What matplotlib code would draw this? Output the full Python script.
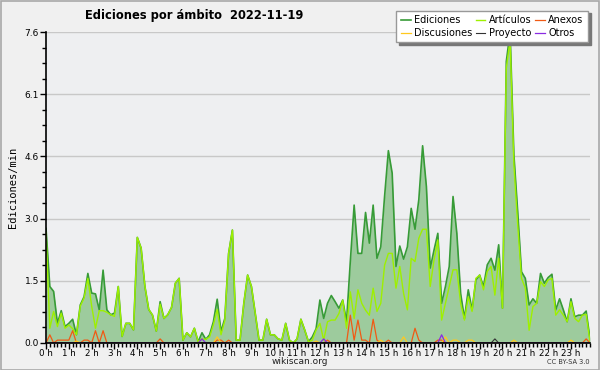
import numpy as np
import matplotlib
matplotlib.use("Agg")
import matplotlib.pyplot as plt
from matplotlib.ticker import MultipleLocator, FixedLocator

plt.rcParams['font.family'] = ['DejaVu Sans']

# ediciones por minuto, intervalos de 10 minutos (144 puntos)
ediciones = [
    2.80, 1.38, 1.26, 0.48, 0.79, 0.40, 0.48, 0.58, 0.20, 0.93, 1.13, 1.70,
    1.22, 1.20, 0.81, 1.78, 0.81, 0.69, 0.73, 1.38, 0.16, 0.48, 0.48, 0.32,
    2.58, 2.32, 1.38, 0.82, 0.68, 0.29, 1.01, 0.60, 0.69, 0.87, 1.46, 1.58,
    0.07, 0.25, 0.15, 0.36, 0.03, 0.25, 0.09, 0.20, 0.52, 1.07, 0.28, 0.60,
    2.19, 2.76, 0.07, 0.07, 0.97, 1.66, 1.38, 0.73, 0.07, 0.07, 0.58, 0.20,
    0.20, 0.10, 0.07, 0.48, 0.07, 0.00, 0.10, 0.58, 0.32, 0.03, 0.15, 0.35,
    1.05, 0.60, 0.97, 1.16, 1.01, 0.85, 1.05, 0.52, 2.00, 3.37, 2.19, 2.19,
    3.19, 2.44, 3.37, 2.07, 2.35, 3.58, 4.70, 4.15, 1.87, 2.37, 2.05, 2.35,
    3.29, 2.78, 3.50, 4.82, 3.82, 1.83, 2.27, 2.68, 0.97, 1.38, 1.87, 3.58,
    2.68, 1.21, 0.60, 1.30, 0.81, 1.54, 1.66, 1.38, 1.91, 2.07, 1.78, 2.40,
    0.85, 6.88, 7.60, 4.60, 3.21, 1.74, 1.58, 0.93, 1.08, 0.97, 1.70, 1.46,
    1.60, 1.68, 0.81, 1.08, 0.81, 0.52, 1.08, 0.64, 0.68, 0.68, 0.78, 0.11,
]
articulos = [
    2.70, 0.36, 0.77, 0.40, 0.73, 0.36, 0.44, 0.35, 0.20, 0.90, 1.10, 1.58,
    0.90, 0.36, 0.79, 0.79, 0.75, 0.69, 0.65, 1.38, 0.16, 0.48, 0.48, 0.32,
    2.58, 2.32, 1.38, 0.82, 0.68, 0.29, 0.95, 0.60, 0.69, 0.87, 1.46, 1.58,
    0.07, 0.25, 0.15, 0.36, 0.03, 0.10, 0.09, 0.15, 0.45, 0.82, 0.20, 0.55,
    2.19, 2.76, 0.07, 0.07, 0.97, 1.66, 1.38, 0.73, 0.07, 0.07, 0.58, 0.20,
    0.20, 0.10, 0.07, 0.48, 0.07, 0.00, 0.10, 0.58, 0.32, 0.03, 0.07, 0.32,
    0.48, 0.07, 0.52, 0.56, 0.56, 0.72, 1.05, 0.36, 1.25, 0.60, 1.30, 0.97,
    0.80, 0.68, 1.34, 0.77, 0.97, 1.90, 2.19, 2.19, 1.34, 1.87, 1.21, 0.81,
    2.07, 1.99, 2.56, 2.78, 2.78, 1.38, 2.03, 2.52, 0.56, 0.97, 1.38, 1.79,
    1.79, 0.97, 0.56, 1.13, 0.77, 1.58, 1.66, 1.30, 1.75, 1.87, 1.17, 2.07,
    0.85, 6.72, 7.40, 4.36, 2.89, 1.58, 1.34, 0.31, 0.89, 0.97, 1.50, 1.38,
    1.54, 1.58, 0.68, 0.81, 0.68, 0.52, 1.01, 0.60, 0.52, 0.68, 0.70, 0.03,
]
# series pequeñas: {índice: valor}, el resto es cero
anexos_pts = {1: 0.2, 3: 0.07, 4: 0.07, 5: 0.07, 6: 0.07, 7: 0.3, 10: 0.07, 11: 0.07,
              13: 0.3, 15: 0.3, 30: 0.1, 45: 0.07, 46: 0.07, 48: 0.07, 74: 0.07,
              80: 0.68, 81: 0.07, 82: 0.56, 83: 0.07, 84: 0.07, 86: 0.58, 87: 0.07,
              90: 0.07, 97: 0.36, 98: 0.07, 103: 0.07, 104: 0.07, 142: 0.1}
discusiones_pts = {8: 0.05, 45: 0.15, 71: 0.05, 88: 0.07, 94: 0.15, 105: 0.15,
                   107: 0.07, 108: 0.07, 111: 0.07, 112: 0.07, 123: 0.07, 138: 0.07}
proyecto_pts = {118: 0.1}
otros_pts = {41: 0.1, 73: 0.1, 104: 0.2}

hours = ["%d h" % h for h in range(24)]

n = len(ediciones)
x = np.arange(n)

def serie(pts):
    s = np.zeros(n)
    for k, v in pts.items():
        s[k] = v
    return s

anexos = serie(anexos_pts)
discusiones = serie(discusiones_pts)
proyecto = serie(proyecto_pts)
otros = serie(otros_pts)

fig = plt.figure(figsize=(6, 3.7), dpi=100, facecolor='#f0f0f0')
ax = fig.add_axes([0.0767, 0.073, 0.9066, 0.8405], facecolor='#eeeff1')
# marco exterior
fig.patches.append(plt.Rectangle((0.001, 0.001), 0.997, 0.997, transform=fig.transFigure,
                                 fill=False, edgecolor='#a8a8a8', linewidth=1.2))

ymax = max(ediciones)
ax.fill_between(x, 0, ediciones, color='#9dcb9d', linewidth=0, zorder=2)
l1, = ax.plot(x, ediciones, color='#379b37', lw=1.2, zorder=3, label='Ediciones')
l2, = ax.plot(x, articulos, color='#9ef000', lw=1.0, zorder=4, label='Artículos')
l3, = ax.plot(x, anexos, color='#f05a14', lw=0.9, zorder=5, label='Anexos')
l4, = ax.plot(x, discusiones, color='#ffc81e', lw=0.9, zorder=5, label='Discusiones')
l5, = ax.plot(x, proyecto, color='#333333', lw=0.8, zorder=5, label='Proyecto')
l6, = ax.plot(x, otros, color='#8a2be2', lw=0.9, zorder=5, label='Otros')

ax.set_xlim(0, n - 1)
ax.set_ylim(0, ymax)
yt = np.linspace(0, ymax, 6)
ax.yaxis.set_major_locator(FixedLocator(yt))
ax.yaxis.set_minor_locator(FixedLocator(np.linspace(0, ymax, 21)))
ax.set_yticklabels(["%.1f" % v for v in yt])
ax.set_xticks(np.arange(0, n, 6))
ax.set_xticklabels(hours)
ax.xaxis.set_minor_locator(MultipleLocator(1))
ax.tick_params(axis='x', which='major', labelsize=6.3, length=4, width=1, color='black', pad=0.5)
ax.tick_params(axis='y', which='major', labelsize=6.5, length=4, width=1, color='black', pad=1)
ax.tick_params(axis='both', which='minor', length=3, width=1, color='black')
ax.grid(axis='y', color='#c8c8c8', lw=1, zorder=1)
for s in ['top', 'right']:
    ax.spines[s].set_visible(False)
for s in ['left', 'bottom']:
    ax.spines[s].set_linewidth(1.2)
    ax.spines[s].set_zorder(6)

ax.set_ylabel('Ediciones/min', family='DejaVu Sans Mono', fontsize=7.5, labelpad=5)
fig.text(0.142, 0.957, 'Ediciones por ámbito  2022-11-19', fontsize=8.3, fontweight='bold',
         va='center', ha='left')
fig.text(0.5, 0.022, 'wikiscan.org', fontsize=6.5, ha='center', va='center', color='#222222')
fig.text(0.983, 0.021, 'CC BY-SA 3.0', fontsize=4.8, ha='right', va='center', color='#333333')

leg = ax.legend(handles=[l1, l4, l2, l5, l3, l6], ncol=3, loc='upper right',
                bbox_to_anchor=(1.0, 1.075), fontsize=7, frameon=True, fancybox=False,
                shadow={'color': '#777777', 'alpha': 1.0}, handlelength=1.0, handletextpad=0.4,
                columnspacing=0.3, labelspacing=0.3, borderpad=0.45, borderaxespad=0.2)
leg.get_frame().set_edgecolor('#999999')
leg.get_frame().set_facecolor('white')
leg.set_zorder(10)

fig.savefig('out.png', dpi=100, facecolor=fig.get_facecolor())
